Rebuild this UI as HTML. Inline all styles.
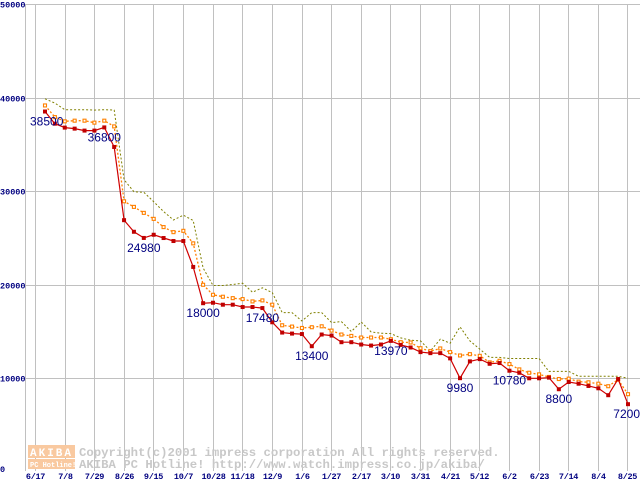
<!DOCTYPE html>
<html><head><meta charset="utf-8"><style>
html,body{margin:0;padding:0;background:#fff;width:640px;height:480px;overflow:hidden}
svg{display:block}
text{font-family:"Liberation Mono","DejaVu Sans Mono",monospace}
</style></head><body>
<svg id="chart" width="640" height="480" viewBox="0 0 640 480" xmlns="http://www.w3.org/2000/svg">
<g id="grid"></g>
<g id="wm">
<rect x="28" y="445" width="47" height="13" fill="#f9c9a0"/>
<rect x="28" y="459" width="47" height="10" fill="#f9c9a0"/>
<text x="30" y="456" font-size="11" font-weight="bold" fill="#fff" letter-spacing="2">AKIBA</text>
<text x="30" y="467" font-size="7" font-weight="bold" fill="#fff">PC Hotline!</text>
<text x="79" y="456" font-size="12.3" font-weight="bold" fill="#c8c8c8">Copyright(c)2001 impress corporation All rights reserved.</text>
<text x="79" y="468" font-size="12.3" font-weight="bold" fill="#c8c8c8">AKIBA PC Hotline!  http://www.watch.impress.co.jp/akiba/</text>
</g>
<g id="series"></g>
<g id="labels"></g>
</svg>
<script>
const xTickLabels=["6/17","7/8","7/29","8/26","9/15","10/7","10/28","11/18","12/9","1/6","1/27","2/17","3/10","3/31","4/21","5/12","6/2","6/23","7/14","8/4","8/25"];
const yTicks=[0,10000,20000,30000,40000,50000];
const minPrices=[38500,37200,36780,36670,36460,36460,36800,34710,26880,25640,24980,25320,24970,24650,24650,21880,18000,18050,17840,17840,17590,17590,17480,15960,14860,14750,14700,13400,14650,14540,13830,13830,13580,13470,13580,13970,13540,13260,12770,12660,12660,12100,9980,11780,12020,11520,11600,10780,10560,9970,9970,10040,8800,9570,9390,9150,8900,8160,9890,7200];
const avgPrices=[39150,37900,37450,37520,37520,37310,37520,36910,28900,28300,27660,27020,26140,25600,25740,24400,19970,18900,18690,18540,18440,18190,18300,17840,15640,15500,15350,15430,15530,15070,14650,14500,14330,14330,14330,14150,13830,13800,13190,12870,13160,12770,12410,12550,12370,11670,11840,11490,10920,10560,10390,10110,9890,9930,9610,9540,9390,9120,9820,8270];
const maxPrices=[39860,39400,38700,38700,38700,38650,38700,38650,31200,29930,29860,28860,27800,26900,27410,26840,21780,19890,19890,20000,20140,19180,19650,19120,16990,16990,16100,16990,16990,15920,16030,14970,15990,14930,14790,14750,14290,14040,13970,12900,14150,13720,15460,13970,13090,12200,12200,12090,12090,12090,12090,10710,10710,10710,10180,10180,10180,10180,10180,9970];
const labeledIdx=[0,6,10,16,22,27,35,42,47,52,59];

const NS="http://www.w3.org/2000/svg";
const xPt=i=>45+i*(583/59);
const xTick=k=>35+k*29.62;
const yv=v=>471.5-v*0.00935;
function mk(tag,attrs,parent){const e=document.createElementNS(NS,tag);for(const k in attrs)e.setAttribute(k,attrs[k]);parent.appendChild(e);return e;}
const grid=document.getElementById('grid');
let a=mk('line',{x1:25.5,y1:4,x2:25.5,y2:471,stroke:'#c0c0c0','stroke-width':1},grid);


yTicks.forEach(v=>{
  const y=Math.round(yv(v))+0.5;
  if(v>0){const l=mk('line',{x1:25,y1:y,x2:640,y2:y,stroke:'#c0c0c0','stroke-width':1},grid);
  
  }
  const t=mk('text',{x:0,y:v===0?472:y+3,'font-size':8.5,'font-weight':'bold',fill:'#000080'},grid);
  t.textContent=v;
  
  
});
xTickLabels.forEach((s,k)=>{
  const x=Math.round(xTick(k))+0.5;
  const l=mk('line',{x1:x,y1:4,x2:x,y2:471,stroke:'#c0c0c0','stroke-width':1},grid);
  
  
  const t=mk('text',{x:x,y:479,'font-size':8.5,'font-weight':'bold',fill:'#000080','text-anchor':'middle','letter-spacing':'-0.3'},grid);
  t.textContent=s;
  
  
});
const ser=document.getElementById('series');
function pts(arr){return arr.map((v,i)=>xPt(i).toFixed(1)+','+yv(v).toFixed(1)).join(' ');}
let p=mk('polyline',{points:pts(maxPrices),fill:'none',stroke:'#808000','stroke-width':1,'stroke-dasharray':'2,2'},ser);


p=mk('polyline',{points:pts(avgPrices),fill:'none',stroke:'#ff8000','stroke-width':1.3,'stroke-dasharray':'2,2'},ser);


avgPrices.forEach((v,i)=>{
  const r=mk('rect',{x:xPt(i)-1.5,y:yv(v)-1.5,width:3,height:3,fill:'#fff',stroke:'#ff8000','stroke-width':1.1},ser);
  
  
});
p=mk('polyline',{points:pts(minPrices),fill:'none',stroke:'#d00000','stroke-width':1.2},ser);


minPrices.forEach((v,i)=>{
  const r=mk('rect',{x:xPt(i)-2,y:yv(v)-2,width:4,height:4,fill:'#c00000'},ser);
  
  
});
const lab=document.getElementById('labels');
labeledIdx.forEach(i=>{
  let x=xPt(i);const y=yv(minPrices[i])+14;
  let anchor='middle';
  if(i===59){anchor='end';x=640;}
  if(i===0){anchor='start';x=30;}
  const t=mk('text',{x:x,y:y,'font-size':12,fill:'#000080','text-anchor':anchor,style:'font-family:"Liberation Sans",sans-serif'},lab);
  t.textContent=minPrices[i];
  
  
});
</script>
</body></html>
